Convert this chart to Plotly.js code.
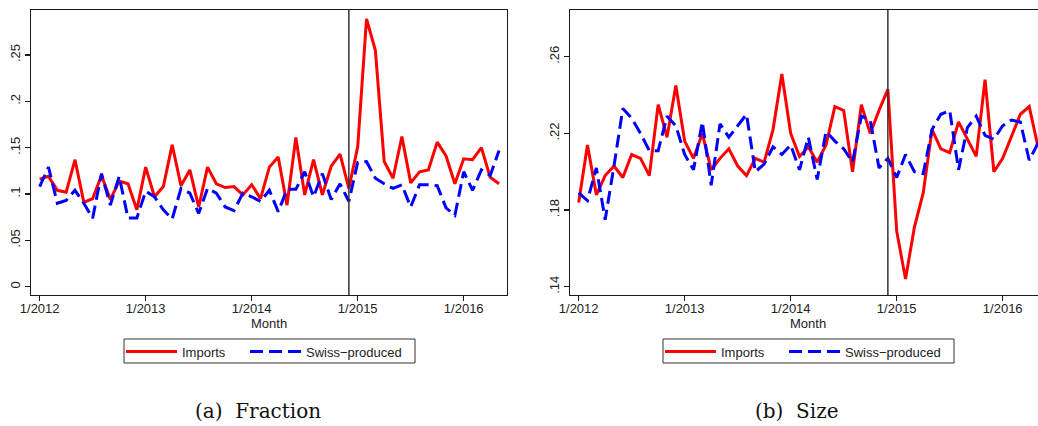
<!DOCTYPE html>
<html>
<head>
<meta charset="utf-8">
<script src="https://cdn.plot.ly/plotly-3.0.1.min.js"></script>
<style>
html, body { margin:0; padding:0; background:#fff; overflow:hidden; width:1038px; height:426px; }
#chart { width:1050px; height:426px; }
</style>
</head>
<body>
<div id="chart"></div>
<script>
// Month index (0 = 1/2012 ... 52 = 5/2016)
const months = ["2012-01","2012-02","2012-03","2012-04","2012-05","2012-06","2012-07","2012-08","2012-09","2012-10","2012-11","2012-12",
"2013-01","2013-02","2013-03","2013-04","2013-05","2013-06","2013-07","2013-08","2013-09","2013-10","2013-11","2013-12",
"2014-01","2014-02","2014-03","2014-04","2014-05","2014-06","2014-07","2014-08","2014-09","2014-10","2014-11","2014-12",
"2015-01","2015-02","2015-03","2015-04","2015-05","2015-06","2015-07","2015-08","2015-09","2015-10","2015-11","2015-12",
"2016-01","2016-02","2016-03","2016-04","2016-05"];
const monthIndex = months.map((m, i) => i);
const eventMonth = 35; // 12/2014

const xTickVals = [0, 12, 24, 36, 48];
const xTickText = ["1/2012", "1/2013", "1/2014", "1/2015", "1/2016"];
const xTitle = "Month";

// Panel (a) Fraction
const fracImports = [0.116,0.119,0.104,0.102,0.137,0.091,0.095,0.120,0.094,0.114,0.111,0.083,
0.129,0.097,0.108,0.153,0.109,0.126,0.086,0.129,0.111,0.107,0.108,0.099,
0.110,0.095,0.129,0.140,0.088,0.161,0.099,0.137,0.099,0.130,0.143,0.106,
0.151,0.289,0.255,0.135,0.117,0.162,0.112,0.124,0.126,0.156,0.141,0.111,
0.138,0.137,0.150,0.118,0.111];
const fracSwiss = [0.108,0.129,0.090,0.093,0.104,0.090,0.074,0.122,0.088,0.119,0.074,0.074,
0.103,0.097,0.083,0.073,0.106,0.101,0.079,0.106,0.101,0.086,0.082,0.101,
0.097,0.092,0.104,0.081,0.105,0.105,0.124,0.097,0.122,0.094,0.111,0.092,
0.134,0.135,0.117,0.111,0.106,0.110,0.086,0.110,0.110,0.109,0.085,0.077,
0.124,0.104,0.126,0.120,0.147];
const fracTickVals = [0, 0.05, 0.1, 0.15, 0.2, 0.25];
const fracTickText = ["0", ".05", ".1", ".15", ".2", ".25"];

// Panel (b) Size
const sizeImports = [0.184,0.214,0.188,0.198,0.203,0.197,0.209,0.207,0.198,0.235,0.218,0.245,
0.216,0.207,0.220,0.201,0.207,0.212,0.203,0.198,0.207,0.205,0.222,0.251,
0.220,0.208,0.213,0.205,0.214,0.234,0.232,0.200,0.235,0.220,0.232,0.243,
0.169,0.144,0.171,0.189,0.222,0.212,0.210,0.226,0.217,0.208,0.248,0.200,
0.207,0.218,0.230,0.234,0.213];
const sizeSwiss = [0.189,0.185,0.202,0.175,0.203,0.233,0.228,0.220,0.211,0.211,0.229,0.224,
0.209,0.201,0.226,0.193,0.225,0.218,0.224,0.230,0.200,0.204,0.213,0.209,
0.214,0.201,0.218,0.196,0.221,0.216,0.212,0.205,0.229,0.227,0.202,0.207,
0.197,0.209,0.200,0.199,0.222,0.230,0.232,0.201,0.223,0.229,0.219,0.217,
0.224,0.227,0.226,0.206,0.215];
const sizeTickVals = [0.14, 0.18, 0.22, 0.26];
const sizeTickText = [".14", ".18", ".22", ".26"];

const seriesNames = ["Imports", "Swiss\u2212produced"];
const captions = ["(a)  Fraction", "(b)  Size"];

const W = 1050, H = 426;
const px = v => v / W;
const py = v => 1 - v / H;

const red = "#ff0000", blue = "#0000ff";
const solid = {color: red, width: 3};
const dashed = {color: blue, width: 3, dash: "13px,6px"};

const traces = [
  {x: monthIndex, y: fracImports, name: seriesNames[0], type: "scatter", mode: "lines", line: solid, xaxis: "x", yaxis: "y", legend: "legend"},
  {x: monthIndex, y: fracSwiss, name: seriesNames[1], type: "scatter", mode: "lines", line: dashed, xaxis: "x", yaxis: "y", legend: "legend2"},
  {x: monthIndex, y: sizeImports, name: seriesNames[0], type: "scatter", mode: "lines", line: solid, xaxis: "x2", yaxis: "y2", legend: "legend3"},
  {x: monthIndex, y: sizeSwiss, name: seriesNames[1], type: "scatter", mode: "lines", line: dashed, xaxis: "x2", yaxis: "y2", legend: "legend4"}
];

const sansFont = {family: "Liberation Sans, Arial, sans-serif", size: 13, color: "#222"};
const axBase = {
  showgrid: false, zeroline: false, showline: true, mirror: true,
  linecolor: "#1a1a1a", linewidth: 1.3, ticks: "outside", ticklen: 5, tickwidth: 1.2, tickcolor: "#1a1a1a",
  tickfont: sansFont, fixedrange: true
};
const xRange = [-0.98, 52.9];
const yDomain = [py(295), py(10)];

const legendBase = {
  orientation: "h", bgcolor: "rgba(0,0,0,0)", borderwidth: 0,
  font: sansFont, xanchor: "left", yanchor: "middle", y: py(351.5), itemwidth: 51
};
// legend line starts ~8px right of legend anchor
const legendAt = lineStart => Object.assign({}, legendBase, {x: px(lineStart - 8)});

const layout = {
  width: W, height: H,
  margin: {l: 0, r: 0, t: 0, b: 0},
  paper_bgcolor: "#fff", plot_bgcolor: "#fff",
  showlegend: true,
  xaxis: Object.assign({}, axBase, {domain: [px(31), px(507)], range: xRange, tickvals: xTickVals, ticktext: xTickText, anchor: "y", ticklabelstandoff: -4}),
  yaxis: Object.assign({}, axBase, {domain: yDomain, range: [-0.00895, 0.2985], tickvals: fracTickVals, ticktext: fracTickText, tickangle: -90, anchor: "x"}),
  xaxis2: Object.assign({}, axBase, {domain: [px(570), px(1046)], range: xRange, tickvals: xTickVals, ticktext: xTickText, anchor: "y2", ticklabelstandoff: -4}),
  yaxis2: Object.assign({}, axBase, {domain: yDomain, range: [0.1357, 0.2844], tickvals: sizeTickVals, ticktext: sizeTickText, tickangle: -90, anchor: "x2"}),
  legend: legendAt(129),
  legend2: legendAt(253),
  legend3: legendAt(668),
  legend4: legendAt(792),
  shapes: [
    {type: "line", xref: "x", yref: "y domain", x0: eventMonth, x1: eventMonth, y0: 0, y1: 1, line: {color: "#333", width: 1.5}},
    {type: "line", xref: "x2", yref: "y2 domain", x0: eventMonth, x1: eventMonth, y0: 0, y1: 1, line: {color: "#333", width: 1.5}},
    {type: "rect", xref: "paper", yref: "paper", x0: px(124), x1: px(415), y0: py(363), y1: py(339), line: {color: "#333", width: 1}},
    {type: "rect", xref: "paper", yref: "paper", x0: px(663), x1: px(954), y0: py(363), y1: py(339), line: {color: "#333", width: 1}}
  ],
  annotations: [
    {text: xTitle, xref: "paper", yref: "paper", x: px(269), y: py(323), xanchor: "center", yanchor: "middle", showarrow: false, font: sansFont},
    {text: xTitle, xref: "paper", yref: "paper", x: px(808), y: py(323), xanchor: "center", yanchor: "middle", showarrow: false, font: sansFont},
    {text: captions[0], xref: "paper", yref: "paper", x: px(257.5), y: py(411), xanchor: "center", yanchor: "middle", showarrow: false,
     font: {family: "DejaVu Serif, serif", size: 20, color: "#111"}},
    {text: captions[1], xref: "paper", yref: "paper", x: px(796.5), y: py(411), xanchor: "center", yanchor: "middle", showarrow: false,
     font: {family: "DejaVu Serif, serif", size: 20, color: "#111"}}
  ]
};

Plotly.newPlot("chart", traces, layout, {displayModeBar: false, staticPlot: true, responsive: false});
</script>
</body>
</html>
